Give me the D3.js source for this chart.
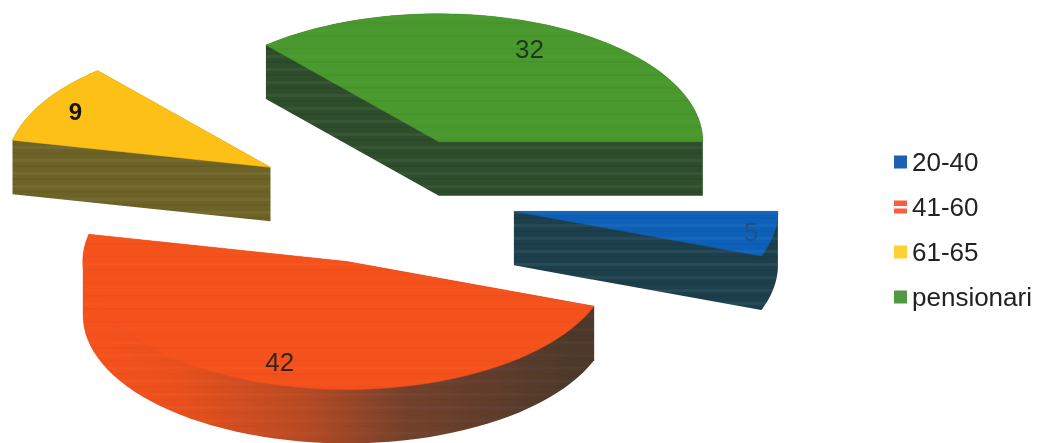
<!DOCTYPE html>
<html>
<head>
<meta charset="utf-8">
<style>
  html, body { margin: 0; padding: 0; background: #fff; }
  svg { display: block; }
  text { font-family: "Liberation Sans", Arial, sans-serif; }
</style>
</head>
<body>
<svg id="chart" width="1038" height="443"></svg>
<script src="https://cdn.jsdelivr.net/npm/d3@7/dist/d3.min.js"></script>
<script>
const categories = ["20-40", "41-60", "61-65", "pensionari"];
const values = [5, 42, 9, 32];
const topColors = ["#0e60b8", "#f4511b", "#fdc012", "#48992d"];
const sideColors = ["#1f3f4b", "url(#redSide)", "#6d6327", "#2e4d2b"];
const topBanding = [0.6, 0.3, 0, 0.4];
const wallBanding = [1, 0.3, 0.8, 0.9];
const labelColors = ["#1d5288", "#33261f", "#15130a", "#1d3a1c"];
const labelWeights = ["normal", "normal", "bold", "normal"];
const labelRadii = [0.91, 0.82, 0.85, 0.8];
const labelNudge = [1, -6, -2, 3];
const legendSwatches = ["#1c62b0", "#f8603a", "#fdd133", "#4f9a3f"];

const cx = 384, cy = 200;      // centre of the pie before the slices are pulled out
const rx = 264, ry = 128;      // tilted ellipse
const depth = 54;
const explode = 0.5;

const svg = d3.select("#chart");
const defs = svg.append("defs");

const grad = defs.append("linearGradient")
    .attr("id", "redSide")
    .attr("gradientUnits", "userSpaceOnUse")
    .attr("x1", 110).attr("x2", 570).attr("y1", 0).attr("y2", 0);
[[0, "#f4511b"], [0.16, "#e8501d"], [0.42, "#b84a24"], [0.64, "#74412c"], [1, "#4d392b"]].forEach(s =>
    grad.append("stop").attr("offset", s[0]).attr("stop-color", s[1]));

// scanner banding seen on the faces
const streaks = defs.append("pattern")
    .attr("id", "streaks")
    .attr("patternUnits", "userSpaceOnUse")
    .attr("width", 10).attr("height", 13);
streaks.append("rect").attr("y", 3).attr("width", 10).attr("height", 3).attr("fill", "#fff").attr("opacity", 0.06);
streaks.append("rect").attr("y", 9).attr("width", 10).attr("height", 2).attr("fill", "#000").attr("opacity", 0.06);

const soft = defs.append("filter").attr("id", "soft");
soft.append("feGaussianBlur").attr("stdDeviation", 0.7);

const pie = d3.pie().sort(null).startAngle(Math.PI / 2).endAngle(Math.PI / 2 + 2 * Math.PI);
const slices = pie(values);

const px = (a, r) => Math.sin(a) * r * rx;
const py = (a, r) => -Math.cos(a) * r * ry;
const line = d3.line();

const g = svg.append("g").attr("filter", "url(#soft)");

slices.forEach((d, i) => {
    const mid = (d.startAngle + d.endAngle) / 2;
    const ax = cx + px(mid, explode), ay = cy + py(mid, explode);

    // outline of the slice: apex, then along the rim
    const steps = d3.range(0, 61).map(t => d.startAngle + (d.endAngle - d.startAngle) * t / 60);
    const outline = [[ax, ay]].concat(steps.map(a => [ax + px(a, 1), ay + py(a, 1)]));

    // every slice is under 180 degrees, so the hull of top and bottom is the solid
    const solid = d3.polygonHull(outline.concat(outline.map(p => [p[0], p[1] + depth])));

    const slice = g.append("g").attr("class", "slice");

    slice.append("path")
        .attr("d", line(solid) + "Z")
        .attr("fill", sideColors[i]);

    slice.append("path")
        .attr("d", line(solid) + "Z")
        .attr("fill", "url(#streaks)")
        .attr("opacity", wallBanding[i]);

    slice.append("path")
        .attr("d", line(outline) + "Z")
        .attr("fill", topColors[i])
        .attr("stroke", topColors[i])
        .attr("stroke-width", 0.5);

    slice.append("path")
        .attr("d", line(outline) + "Z")
        .attr("fill", "url(#streaks)")
        .attr("opacity", topBanding[i]);

    slice.append("text")
        .attr("x", ax + px(mid, labelRadii[i]) + labelNudge[i])
        .attr("y", ay + py(mid, labelRadii[i]))
        .attr("dy", "0.36em")
        .attr("text-anchor", "middle")
        .attr("font-size", labelWeights[i] === "bold" ? 24 : 26)
        .attr("font-weight", labelWeights[i])
        .attr("fill", labelColors[i])
        .text(values[i]);
});

// legend
const legendY = d3.scalePoint().domain(categories).range([162, 297]);
const legend = svg.append("g").attr("filter", "url(#soft)")
    .selectAll("g")
    .data(categories)
    .join("g")
    .attr("transform", d => `translate(894,${legendY(d)})`);

legend.append("rect")
    .attr("y", -6.5)
    .attr("width", 13)
    .attr("height", 13)
    .attr("fill", (d, i) => legendSwatches[i]);

legend.filter(d => d === "41-60").append("rect")
    .attr("y", -1)
    .attr("width", 13)
    .attr("height", 2.5)
    .attr("fill", "#fff");

legend.append("text")
    .attr("x", 18)
    .attr("dy", "0.36em")
    .attr("font-size", 26)
    .attr("fill", "#222")
    .text(d => d);
</script>
</body>
</html>
